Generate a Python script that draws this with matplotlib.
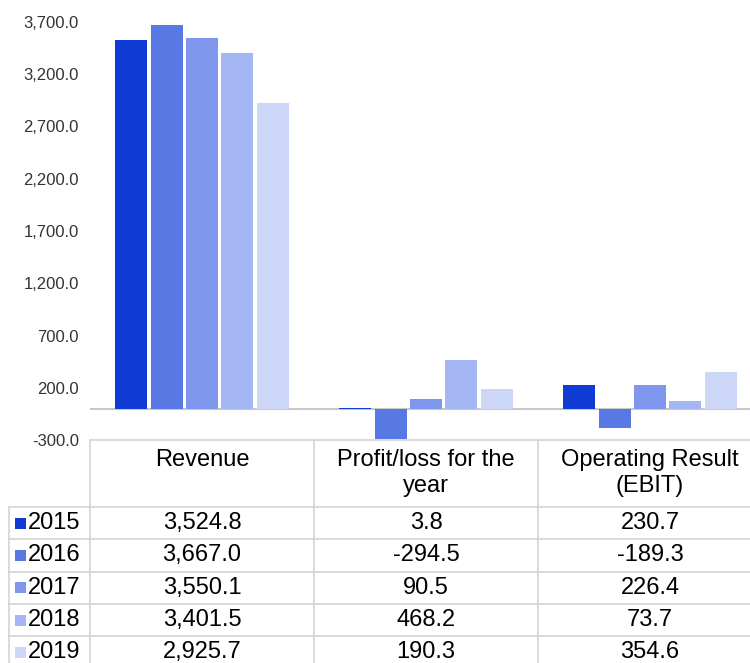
import numpy as np
import matplotlib.pyplot as plt
from matplotlib.patches import Rectangle

plt.rcParams['font.family'] = ['Liberation Sans', 'DejaVu Sans']

categories = ['Revenue', 'Profit/loss for the\nyear', 'Operating Result\n(EBIT)']
years = ['2015', '2016', '2017', '2018', '2019']
values = {
    '2015': [3524.8, 3.8, 230.7],
    '2016': [3667.0, -294.5, -189.3],
    '2017': [3550.1, 90.5, 226.4],
    '2018': [3401.5, 468.2, 73.7],
    '2019': [2925.7, 190.3, 354.6],
}
colors = ['#103ad4', '#5878e4', '#7f97ec', '#a4b6f3', '#ccd7f8']
yticks = np.arange(-300, 3701, 500)

fig = plt.figure(figsize=(7.5, 6.63), dpi=100)
ax = fig.add_axes([90 / 750, 223 / 663, 672 / 750, 418 / 663])

x = np.arange(len(categories))
slot = 0.158
for i, yr in enumerate(years):
    ax.bar(x + (i - 2) * slot, values[yr], slot * 0.9, color=colors[i], zorder=3)

ax.axhline(0, color='#c8c8c8', lw=1.5, zorder=2)
ax.set_xlim(-0.5, 2.5)
ax.set_ylim(-300, 3700)
ax.set_yticks(yticks)
ax.set_yticklabels([f"{v:,.1f}" for v in yticks], fontsize=12, color='#333333')
ax.tick_params(axis='y', length=0, pad=8)
ax.set_xticks([])
for s in ax.spines.values():
    s.set_visible(False)

# data table under the plot (axes coordinates)
ph = 418.0
line_c = '#d4d4d4'
head_h = 67 / ph
row_h = 32.3 / ph
lab_x0 = -81 / 672.0
kw = dict(transform=ax.transAxes, clip_on=False, color=line_c, lw=1.2)

y_top = 0.0
y_head = -head_h
n = len(years)
y_bot = y_head - n * row_h

ax.plot([0, 1], [y_top, y_top], **kw)
for c in range(len(categories) + 1):
    xc = c / len(categories)
    ax.plot([xc, xc], [y_top, y_bot], **kw)
ax.plot([lab_x0, lab_x0], [y_head, y_bot], **kw)
for r in range(n + 1):
    yr_ = y_head - r * row_h
    ax.plot([lab_x0, 1], [yr_, yr_], **kw)

for c, cat in enumerate(categories):
    ax.text((c + 0.5) / len(categories), y_top - 9 / ph, cat, transform=ax.transAxes,
            ha='center', va='top', fontsize=17, linespacing=1.25)

for r, yr in enumerate(years):
    yc = y_head - (r + 0.5) * row_h
    ax.add_patch(Rectangle((lab_x0 + 6 / 672, yc - 5.5 / ph), 11 / 672, 11 / ph,
                           transform=ax.transAxes, clip_on=False,
                           facecolor=colors[r], edgecolor='none'))
    ax.text(lab_x0 + 19 / 672, yc, yr, transform=ax.transAxes,
            ha='left', va='center', fontsize=17)
    for c in range(len(categories)):
        ax.text((c + 0.5) / len(categories), yc, f"{values[yr][c]:,.1f}",
                transform=ax.transAxes, ha='center', va='center', fontsize=17)

fig.savefig('out.png', dpi=100)
